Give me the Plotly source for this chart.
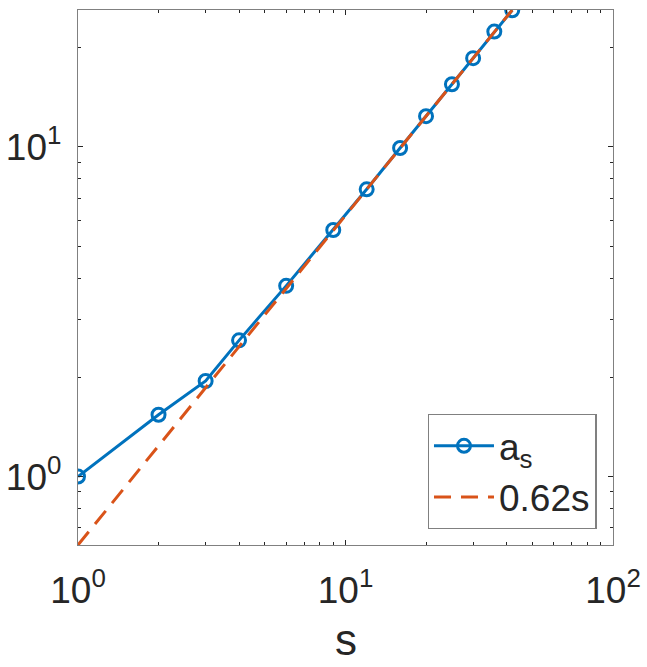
import math
import plotly.graph_objects as go

s_vals = [1, 2, 3, 4, 6, 9, 12, 16, 20, 25, 30, 36, 42]
a_vals = [1.0, 1.54, 1.95, 2.59, 3.79, 5.6, 7.44, 9.93, 12.4, 15.5, 18.6, 22.4, 26.0]
fit_s = [1, 42]
fit_vals = [0.62, 26.04]

x_tickvals = [1, 10, 100]
x_ticktext = ["10<sup>0</sup>", "10<sup>1</sup>", "10<sup>2</sup>"]
x_minor = [2, 3, 4, 5, 6, 7, 8, 9, 20, 30, 40, 50, 60, 70, 80, 90]
y_tickvals = [1, 10]
y_ticktext = ["10<sup>0</sup>", "10<sup>1</sup>"]
y_minor = [0.7, 0.8, 0.9, 2, 3, 4, 5, 6, 7, 8, 9, 20]
x_title = "s"

BLUE = "#0072BD"
ORANGE = "#D95319"
FONT = "Liberation Sans, Arial, Helvetica, sans-serif"
TXT = "#262626"

fig = go.Figure()
fig.add_trace(go.Scatter(
    x=s_vals, y=a_vals, mode="lines+markers", name="a<sub>s</sub>",
    line=dict(color=BLUE, width=3),
    marker=dict(symbol="circle-open", size=13, color=BLUE, line=dict(width=3, color=BLUE)),
))
fig.add_trace(go.Scatter(
    x=fit_s, y=fit_vals, mode="lines", name="0.62s",
    line=dict(color=ORANGE, width=3, dash="17px,10px"),
))

axis_common = dict(
    type="log",
    showgrid=False,
    zeroline=False,
    showline=True,
    linecolor="#808080",
    linewidth=1.4,
    mirror="allticks",
    ticks="inside",
    ticklen=5,
    tickwidth=1,
    tickcolor=TXT,
    tickfont=dict(family=FONT, size=37, color=TXT),
    automargin=False,
)

fig.update_xaxes(
    **axis_common,
    range=[0, 2],
    tickvals=x_tickvals, ticktext=x_ticktext,
    minor=dict(tickvals=x_minor, ticks="inside", ticklen=3, tickwidth=1, tickcolor=TXT, showgrid=False),
    ticklabelstandoff=12,
)
fig.update_yaxes(
    **axis_common,
    range=[math.log10(0.62), math.log10(26.04)],
    tickvals=y_tickvals, ticktext=y_ticktext,
    minor=dict(tickvals=y_minor, ticks="inside", ticklen=3, tickwidth=1, tickcolor=TXT, showgrid=False),
    ticklabelstandoff=8,
)

fig.add_annotation(
    text=x_title, xref="paper", yref="paper", x=0.5, y=-0.226,
    xanchor="center", yanchor="bottom", showarrow=False,
    font=dict(family=FONT, size=44, color=TXT),
)

fig.update_layout(
    width=647, height=667,
    margin=dict(l=78, r=34, t=10, b=122),
    plot_bgcolor="white", paper_bgcolor="white",
    font=dict(family=FONT, color=TXT),
    showlegend=True,
    legend=dict(
        x=0.9695, y=0.03, xanchor="right", yanchor="bottom",
        bgcolor="white", bordercolor="#808080", borderwidth=1.3,
        font=dict(family=FONT, size=37, color=TXT),
        itemwidth=60,
        tracegroupgap=0,
    ),
)

fig.write_html("out.html")
